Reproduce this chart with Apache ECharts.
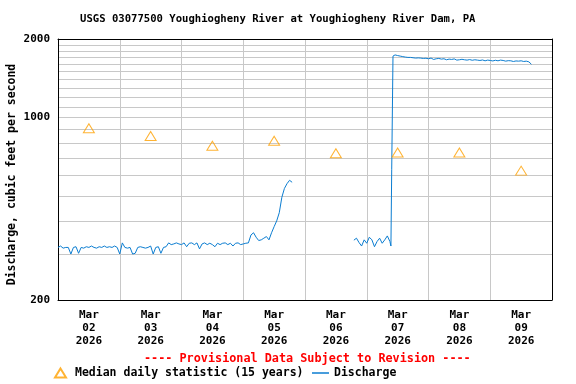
<!DOCTYPE html>
<html>
<head>
<meta charset="utf-8">
<script src="https://cdn.jsdelivr.net/npm/echarts@6/dist/echarts.min.js"></script>
<style>html,body{margin:0;padding:0;background:#fff}#c{width:576px;height:384px}</style>
</head>
<body>
<div id="c"></div>
<script>
// x positions are hours since Mar 02 2026 00:00
const month = 'Mar';
const year = '2026';
const days = ['02', '03', '04', '05', '06', '07', '08', '09'];
const yLabelValues = [200, 1000, 2000];
const yGridValues = [200, 300, 400, 500, 600, 700, 800, 900, 1000, 1100, 1200, 1300, 1400, 1500, 1600, 1700, 1800, 1900, 2000];
const medianHours = [12, 36, 60, 84, 108, 132, 156, 180];
const medianCfs = [910, 850, 780, 815, 730, 735, 735, 626];
const discharge = [
  [0,318],[1,322],[2,316],[3,318],[4,318],[5,300],[6,318],[7,320],[8,302],[9,318],[10,316],[11,320],
  [12,318],[13,322],[14,318],[15,316],[16,320],[17,318],[18,322],[19,318],[20,320],[21,318],[22,322],[23,318],
  [24,300],[25,331],[26,318],[27,316],[28,318],[29,300],[30,302],[31,318],[32,320],[33,318],[34,316],[35,318],
  [36,322],[37,300],[38,318],[39,320],[40,302],[41,318],[42,320],[43,331],[44,326],[45,328],[46,331],[47,328],
  [48,326],[49,331],[50,320],[51,330],[52,331],[53,326],[54,331],[55,314],[56,328],[57,331],[58,326],[59,330],
  [60,326],[61,320],[62,330],[63,326],[64,330],[65,331],[66,326],[67,330],[68,322],[69,330],[70,331],[71,326],
  [72,328],[73,330],[74,331],[75,355],[76,362],[77,348],[78,338],[79,340],[80,345],[81,350],[82,340],[83,362],
  [84,382],[85,402],[86,432],[87,495],[88,535],[89,558],[90,575],[91,565],
  [100,null],
  [115,339],[116,345],[117,332],[118,322],[119,340],[120,330],[121,348],[122,340],[123,320],[124,335],[125,345],
  [126,330],[127,340],[128,352],[129,335],[129.4,322],[129.7,631],[130.2,1720],[131,1738],[132,1728],[133,1720],
  [134,1712],[135,1705],[136,1700],[137,1700],[138,1695],[139,1690],[140,1693],[141,1690],[142,1685],[143,1688],
  [144,1680],[145,1690],[146,1670],[147,1680],[148,1685],[149,1675],[150,1680],[151,1665],[152,1675],[153,1670],
  [154,1678],[155,1660],[156,1665],[157,1672],[158,1665],[159,1660],[160,1668],[161,1658],[162,1665],[163,1660],
  [164,1655],[165,1662],[166,1650],[167,1660],[168,1655],[169,1648],[170,1658],[171,1650],[172,1660],[173,1655],
  [174,1645],[175,1652],[176,1650],[177,1640],[178,1648],[179,1645],[180,1650],[181,1640],[182,1645],[183,1635],
  [184,1600]
];

const FONT = 'DejaVu Sans Mono';
const GRIDC = '#c8c8c8';
const chart = echarts.init(document.getElementById('c'), null, {renderer: 'canvas'});
chart.setOption({
  animation: false,
  backgroundColor: '#ffffff',
  title: {
    text: 'USGS 03077500 Youghiogheny River at Youghiogheny River Dam, PA',
    left: 80, top: 14, padding: 0,
    textStyle: {fontFamily: FONT, fontWeight: 'bold', fontSize: 10.6, color: '#000'}
  },
  graphic: [{
    type: 'text', left: 144, top: 353,
    style: {text: '---- Provisional Data Subject to Revision ----', fill: '#ff0000',
      font: 'bold 11.8px "DejaVu Sans Mono"'}
  }],
  legend: [{
    data: ['Median daily statistic (15 years)'], left: 54, top: 367, padding: 0,
    itemWidth: 11, itemHeight: 9,
    textStyle: {fontFamily: FONT, fontWeight: 'bold', fontSize: 11.5, color: '#000', padding: [0, 0, 0, 4]}
  }, {
    data: ['Discharge'], left: 312, top: 367, padding: 0, icon: 'rect',
    itemWidth: 17, itemHeight: 1.5,
    textStyle: {fontFamily: FONT, fontWeight: 'bold', fontSize: 11.5, color: '#000'}
  }],
  grid: {left: 58, right: 24, top: 39, bottom: 84, containLabel: false, outerBoundsMode: 'none'},
  xAxis: [{
    type: 'category', position: 'bottom', boundaryGap: true,
    data: days.map(d => month + '\n' + d + '\n' + year),
    axisLine: {show: true, lineStyle: {color: '#000', width: 1}},
    axisTick: {show: false},
    axisLabel: {fontFamily: FONT, fontWeight: 'bold', fontSize: 11, color: '#000', lineHeight: 13, margin: 9, interval: 0},
    splitLine: {show: true, lineStyle: {color: GRIDC, width: 1}}
  }, {
    type: 'value', position: 'top', min: 0, max: 192,
    axisLine: {show: true, onZero: false, lineStyle: {color: '#000', width: 1}},
    axisTick: {show: false}, axisLabel: {show: false}, splitLine: {show: false}
  }],
  yAxis: [{
    type: 'log', logBase: 10, min: 200, max: 2000, position: 'left',
    name: 'Discharge, cubic feet per second', nameLocation: 'middle', nameRotate: 90, nameGap: 40,
    nameMoveOverlap: false,
    nameTextStyle: {fontFamily: FONT, fontWeight: 'bold', fontSize: 11.5, color: '#000', padding: [0, 10, 0, 0]},
    axisLine: {show: true, onZero: false, lineStyle: {color: '#000', width: 1}},
    axisTick: {show: false, customValues: yGridValues},
    axisLabel: {customValues: yLabelValues, formatter: v => String(Math.round(v)),
      fontFamily: FONT, fontWeight: 'bold', fontSize: 11, color: '#000', margin: 8},
    splitLine: {show: true, lineStyle: {color: GRIDC, width: 1}}
  }, {
    type: 'value', position: 'right', min: 0, max: 1,
    axisLine: {show: true, onZero: false, lineStyle: {color: '#000', width: 1}},
    axisTick: {show: false}, axisLabel: {show: false}, splitLine: {show: false}
  }],
  series: [{
    name: 'Discharge', type: 'line', xAxisIndex: 1, yAxisIndex: 0,
    data: discharge, symbol: 'none', connectNulls: false, z: 3,
    lineStyle: {color: '#0b7dd1', width: 1}, itemStyle: {color: '#0b7dd1'}
  }, {
    name: 'Median daily statistic (15 years)', type: 'scatter', xAxisIndex: 1, yAxisIndex: 0,
    data: medianHours.map((h, i) => [h, medianCfs[i]]),
    symbol: 'triangle', symbolSize: [11, 9], z: 4,
    itemStyle: {color: 'rgba(255,255,255,0)', borderColor: '#ffa000', borderWidth: 1}
  }]
});
</script>
</body>
</html>
